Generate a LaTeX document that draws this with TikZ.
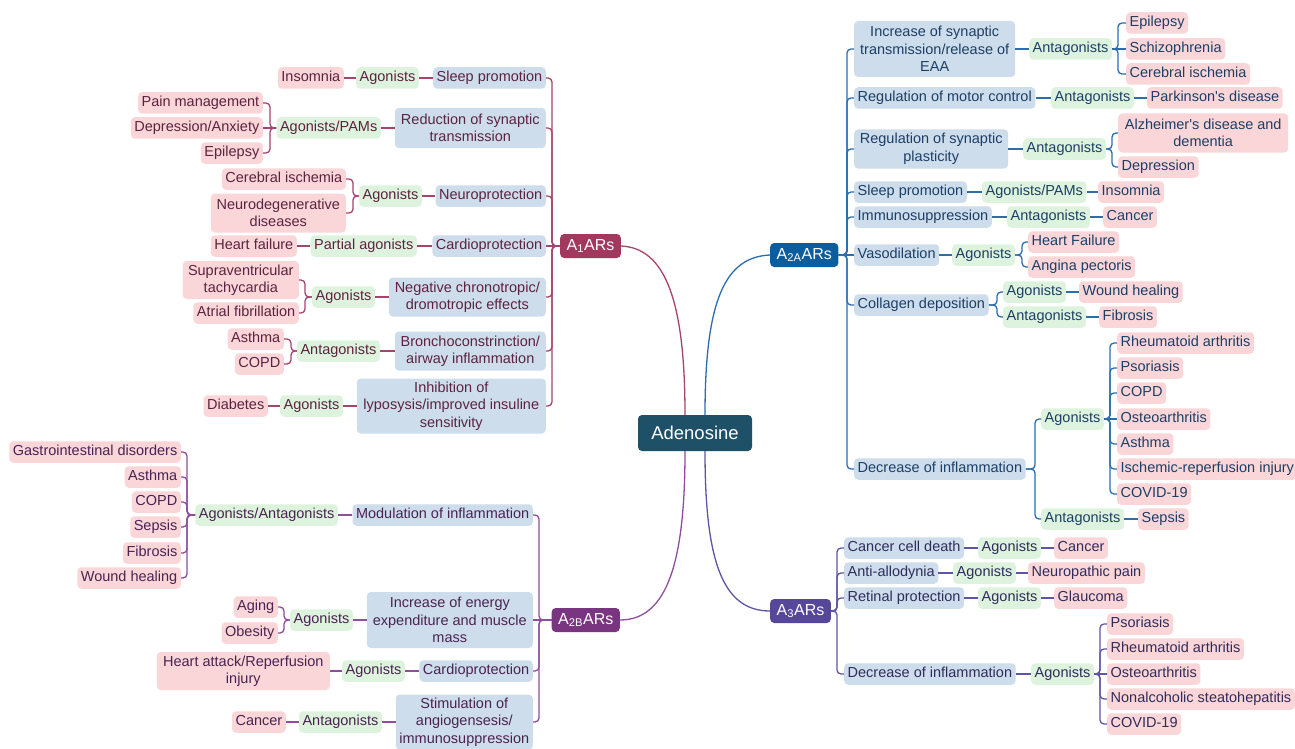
\documentclass[tikz,border=0pt]{standalone}
\usepackage{fontspec}
\setmainfont{Liberation Sans}
\usetikzlibrary{calc}
\definecolor{pinkF}{HTML}{FAD6D8}
\definecolor{greenF}{HTML}{DEF3DD}
\definecolor{blueF}{HTML}{CEDDEB}
\definecolor{rootC}{HTML}{1E5167}
\definecolor{tA}{HTML}{5C2340}
\definecolor{lA}{HTML}{A6446E}
\definecolor{cA}{HTML}{A3385F}
\definecolor{tB}{HTML}{1C3F66}
\definecolor{lB}{HTML}{2C6DAE}
\definecolor{cB}{HTML}{0B5D9E}
\definecolor{tC}{HTML}{4A2352}
\definecolor{lC}{HTML}{8E4E9C}
\definecolor{cC}{HTML}{7A3580}
\definecolor{tD}{HTML}{2F2C5C}
\definecolor{lD}{HTML}{5E55A4}
\definecolor{cD}{HTML}{56479A}
\newcommand\fsz{\fontsize{14.5}{17.5}\selectfont}
\begin{document}
\begin{tikzpicture}[x=1pt,y=-1pt,
  bx/.style={rounded corners=4pt, inner xsep=3.5pt, inner ysep=3pt, minimum height=21.5pt, text height=10.5pt, text depth=3pt, align=center, font=\fsz},
  ml/.style={text height=, text depth=},
  pk/.style={bx, fill=pinkF},
  gr/.style={bx, fill=greenF},
  bl/.style={bx, fill=blueF},
  cat/.style={rounded corners=4pt, text=white, font=\fontsize{16}{19}\selectfont, inner xsep=6.5pt, minimum height=24pt},
  root/.style={rounded corners=4pt, text=white, fill=rootC, font=\fontsize{18.5}{22}\selectfont, minimum width=114pt, minimum height=36pt},
  ln/.style={line width=1.3pt, rounded corners=4pt},
  E/.style={anchor=east}, W/.style={anchor=west}
]
\useasboundingbox (0,0) rectangle (1295,749);
\fill[white] (0,0) rectangle (1295,749);

\node[root] (ad) at (695,433) {Adenosine};

% ---------------- A1 ----------------
\begin{scope}[bx/.append style={text=tA}, ln/.append style={draw=lA}]
\node[cat, fill=cA, W] (A1) at (560,246) {A\textsubscript{1}ARs};
\node[bl,E] (a1) at (546,78) {Sleep promotion};
\node[bl,ml,E,minimum width=151,minimum height=40] (a2) at (546,128) {Reduction of synaptic\\transmission};
\node[bl,E] (a3) at (546,196) {Neuroprotection};
\node[bl,E] (a4) at (546,246) {Cardioprotection};
\node[bl,ml,E,minimum width=157,minimum height=39] (a5) at (546,297) {Negative chronotropic/\\dromotropic effects};
\node[bl,ml,E,minimum width=151,minimum height=39] (a6) at (546,351) {Bronchoconstrinction/\\airway inflammation};
\node[bl,ml,E,minimum width=189,minimum height=55] (a7) at (546,406) {Inhibition of\\lyposysis/improved insuline\\sensitivity};
\node[gr,E] (a1g) at (419,78) {Agonists};
\node[gr,E] (a2g) at (381,128) {Agonists/PAMs};
\node[gr,E] (a3g) at (422,196) {Agonists};
\node[gr,E] (a4g) at (417,246) {Partial agonists};
\node[gr,E] (a5g) at (375,297) {Agonists};
\node[gr,E] (a6g) at (380,351) {Antagonists};
\node[gr,E] (a7g) at (343,406) {Agonists};
\node[pk,E] (a1p) at (344,78) {Insomnia};
\node[pk,E] (a2p1) at (263,103) {Pain management};
\node[pk,E] (a2p2) at (263,128) {Depression/Anxiety};
\node[pk,E] (a2p3) at (263,153) {Epilepsy};
\node[pk,E] (a3p1) at (346,179) {Cerebral ischemia};
\node[pk,ml,E,minimum width=135,minimum height=39] (a3p2) at (346,213) {Neurodegenerative\\diseases};
\node[pk,E] (a4p) at (297,246) {Heart failure};
\node[pk,ml,E,minimum width=116,minimum height=38] (a5p1) at (299,280) {Supraventricular\\tachycardia};
\node[pk,E] (a5p2) at (299,313) {Atrial fibrillation};
\node[pk,E] (a6p1) at (284,339) {Asthma};
\node[pk,E] (a6p2) at (284,364) {COPD};
\node[pk,E] (a7p) at (268,406) {Diabetes};
\foreach \n in {a1,a2,a3,a5,a6,a7} \draw[ln] (\n.east) -- ++(6,0) |- (A1.west);
\draw[ln] (a4.east) -- (A1.west);
\foreach \n in {a1,a2,a3,a4,a5,a6,a7} \draw[ln] (\n.west) -- (\n g.east);
\draw[ln] (a1g.west) -- (a1p.east);
\draw[ln] (a2p1.east) -- ++(7,0) |- (a2g.west);
\draw[ln] (a2p2.east) -- (a2g.west);
\draw[ln] (a2p3.east) -- ++(7,0) |- (a2g.west);
\draw[ln] (a3p1.east) -- ++(7,0) |- (a3g.west);
\draw[ln] (a3p2.east) -- ++(7,0) |- (a3g.west);
\draw[ln] (a4g.west) -- (a4p.east);
\draw[ln] (a5p1.east) -- ++(6,0) |- (a5g.west);
\draw[ln] (a5p2.east) -- ++(6,0) |- (a5g.west);
\draw[ln] (a6p1.east) -- ++(7,0) |- (a6g.west);
\draw[ln] (a6p2.east) -- ++(7,0) |- (a6g.west);
\draw[ln] (a7g.west) -- (a7p.east);
\draw[ln] (A1.east) .. controls (665,248) and (685,300) .. ($(ad.north)+(-10,0)$);
\end{scope}

% ---------------- A2B ----------------
\begin{scope}[bx/.append style={text=tC}, ln/.append style={draw=lC}]
\node[cat, fill=cC, E] (B) at (620,620) {A\textsubscript{2B}ARs};
\node[bl,E] (b1) at (533,515) {Modulation of inflammation};
\node[bl,ml,E,minimum width=166,minimum height=56] (b2) at (533,620) {Increase of energy\\expenditure and muscle\\mass};
\node[bl,E] (b3) at (533,671) {Cardioprotection};
\node[bl,ml,E,minimum width=137,minimum height=55] (b4) at (533,722) {Stimulation of\\angiogensesis/\\immunosuppression};
\node[gr,E] (b1g) at (338,515) {Agonists/Antagonists};
\node[gr,E] (b2g) at (353,620) {Agonists};
\node[gr,E] (b3g) at (405,671) {Agonists};
\node[gr,E] (b4g) at (382,722) {Antagonists};
\node[pk,E] (b1p1) at (181,452) {Gastrointestinal disorders};
\node[pk,E] (b1p2) at (181,477) {Asthma};
\node[pk,E] (b1p3) at (181,502) {COPD};
\node[pk,E] (b1p4) at (181,527) {Sepsis};
\node[pk,E] (b1p5) at (181,553) {Fibrosis};
\node[pk,E] (b1p6) at (181,578) {Wound healing};
\node[pk,E] (b2p1) at (278,607) {Aging};
\node[pk,E] (b2p2) at (278,633) {Obesity};
\node[pk,ml,E,minimum width=173,minimum height=38] (b3p) at (330,671) {Heart attack/Reperfusion\\injury};
\node[pk,E] (b4p) at (286,722) {Cancer};
\foreach \n in {b1,b3,b4} \draw[ln] (\n.east) -- ++(6,0) |- (B.west);
\draw[ln] (b2.east) -- (B.west);
\foreach \n in {b1,b2,b3,b4} \draw[ln] (\n.west) -- (\n g.east);
\foreach \n in {b1p1,b1p2,b1p3,b1p4,b1p5,b1p6} \draw[ln] (\n.east) -- ++(6,0) |- (b1g.west);
\draw[ln] (b2p1.east) -- ++(6,0) |- (b2g.west);
\draw[ln] (b2p2.east) -- ++(6,0) |- (b2g.west);
\draw[ln] (b3g.west) -- (b3p.east);
\draw[ln] (b4g.west) -- (b4p.east);
\draw[ln] ($(ad.south)+(-10,0)$) .. controls (685,560) and (668,620) .. (B.east);
\end{scope}

% ---------------- A2A ----------------
\begin{scope}[bx/.append style={text=tB}, ln/.append style={draw=lB}]
\node[cat, fill=cB, W] (C) at (770,255) {A\textsubscript{2A}ARs};
\node[bl,ml,W,minimum width=161,minimum height=56] (c1) at (854,49) {Increase of synaptic\\transmission/release of\\EAA};
\node[bl,W] (c2) at (854,98) {Regulation of motor control};
\node[bl,ml,W,minimum width=154,minimum height=39] (c3) at (854,149) {Regulation of synaptic\\plasticity};
\node[bl,W] (c4) at (854,192) {Sleep promotion};
\node[bl,W] (c5) at (854,217) {Immunosuppression};
\node[bl,W] (c6) at (854,255) {Vasodilation};
\node[bl,W] (c7) at (854,305) {Collagen deposition};
\node[bl,W] (c8) at (854,469) {Decrease of inflammation};
\node[gr,W] (c1g) at (1029,49) {Antagonists};
\node[gr,W] (c2g) at (1051,98) {Antagonists};
\node[gr,W] (c3g) at (1023,149) {Antagonists};
\node[gr,W] (c4g) at (982,192) {Agonists/PAMs};
\node[gr,W] (c5g) at (1007,217) {Antagonists};
\node[gr,W] (c6g) at (952,255) {Agonists};
\node[gr,W] (c7g1) at (1003,292) {Agonists};
\node[gr,W] (c7g2) at (1003,317) {Antagonists};
\node[gr,W] (c8g1) at (1041,419) {Agonists};
\node[gr,W] (c8g2) at (1041,519) {Antagonists};
\node[pk,W] (c1p1) at (1126,23) {Epilepsy};
\node[pk,W] (c1p2) at (1126,49) {Schizophrenia};
\node[pk,W] (c1p3) at (1126,74) {Cerebral ischemia};
\node[pk,W] (c2p) at (1147,98) {Parkinson\textquotesingle s disease};
\node[pk,ml,W,minimum width=170,minimum height=39] (c3p1) at (1118,133) {Alzheimer\textquotesingle s disease and\\dementia};
\node[pk,W] (c3p2) at (1118,167) {Depression};
\node[pk,W] (c4p) at (1098,192) {Insomnia};
\node[pk,W] (c5p) at (1103,217) {Cancer};
\node[pk,W] (c6p1) at (1028,242) {Heart Failure};
\node[pk,W] (c6p2) at (1028,267) {Angina pectoris};
\node[pk,W] (c7p1) at (1079,292) {Wound healing};
\node[pk,W] (c7p2) at (1099,317) {Fibrosis};
\node[pk,W] (c8p1) at (1117,343) {Rheumatoid arthritis};
\node[pk,W] (c8p2) at (1117,368) {Psoriasis};
\node[pk,W] (c8p3) at (1117,393) {COPD};
\node[pk,W] (c8p4) at (1117,419) {Osteoarthritis};
\node[pk,W] (c8p5) at (1117,444) {Asthma};
\node[pk,W] (c8p6) at (1117,469) {Ischemic-reperfusion injury};
\node[pk,W] (c8p7) at (1117,494) {COVID-19};
\node[pk,W] (c8p8) at (1138,519) {Sepsis};
\foreach \n in {c1,c2,c3,c4,c5,c7,c8} \draw[ln] (\n.west) -- ++(-7,0) |- (C.east);
\draw[ln] (c6.west) -- (C.east);
\foreach \n in {c1,c2,c3,c4,c5,c6} \draw[ln] (\n.east) -- (\n g.west);
\draw[ln] (c1p1.west) -- ++(-8,0) |- (c1g.east);
\draw[ln] (c1p2.west) -- (c1g.east);
\draw[ln] (c1p3.west) -- ++(-8,0) |- (c1g.east);
\draw[ln] (c2g.east) -- (c2p.west);
\draw[ln] (c3p1.west) -- ++(-6,0) |- (c3g.east);
\draw[ln] (c3p2.west) -- ++(-6,0) |- (c3g.east);
\draw[ln] (c4g.east) -- (c4p.west);
\draw[ln] (c5g.east) -- (c5p.west);
\draw[ln] (c6p1.west) -- ++(-6,0) |- (c6g.east);
\draw[ln] (c6p2.west) -- ++(-6,0) |- (c6g.east);
\draw[ln] (c7g1.west) -- ++(-6,0) |- (c7.east);
\draw[ln] (c7g2.west) -- ++(-6,0) |- (c7.east);
\draw[ln] (c7g1.east) -- (c7p1.west);
\draw[ln] (c7g2.east) -- (c7p2.west);
\draw[ln] (c8g1.west) -- ++(-6,0) |- (c8.east);
\draw[ln] (c8g2.west) -- ++(-6,0) |- (c8.east);
\foreach \n in {c8p1,c8p2,c8p3,c8p5,c8p6,c8p7} \draw[ln] (\n.west) -- ++(-7,0) |- (c8g1.east);
\draw[ln] (c8p4.west) -- (c8g1.east);
\draw[ln] (c8g2.east) -- (c8p8.west);
\draw[ln] (C.west) .. controls (725,257) and (705,300) .. ($(ad.north)+(10,0)$);
\end{scope}

% ---------------- A3 ----------------
\begin{scope}[bx/.append style={text=tD}, ln/.append style={draw=lD}]
\node[cat, fill=cD, W] (D) at (770,611) {A\textsubscript{3}ARs};
\node[bl,W] (d1) at (844,548) {Cancer cell death};
\node[bl,W] (d2) at (844,573) {Anti-allodynia};
\node[bl,W] (d3) at (844,598) {Retinal protection};
\node[bl,W] (d4) at (844,674) {Decrease of inflammation};
\node[gr,W] (d1g) at (978,548) {Agonists};
\node[gr,W] (d2g) at (953,573) {Agonists};
\node[gr,W] (d3g) at (978,598) {Agonists};
\node[gr,W] (d4g) at (1031,674) {Agonists};
\node[pk,W] (d1p) at (1054,548) {Cancer};
\node[pk,W] (d2p) at (1028,573) {Neuropathic pain};
\node[pk,W] (d3p) at (1054,598) {Glaucoma};
\node[pk,W] (d4p1) at (1107,624) {Psoriasis};
\node[pk,W] (d4p2) at (1107,649) {Rheumatoid arthritis};
\node[pk,W] (d4p3) at (1107,674) {Osteoarthritis};
\node[pk,W] (d4p4) at (1107,699) {Nonalcoholic steatohepatitis};
\node[pk,W] (d4p5) at (1107,724) {COVID-19};
\foreach \n in {d1,d2,d3,d4} \draw[ln] (\n.west) -- ++(-7,0) |- (D.east);
\foreach \n in {d1,d2,d3,d4} \draw[ln] (\n.east) -- (\n g.west);
\foreach \n in {d1,d2,d3} \draw[ln] (\n g.east) -- (\n p.west);
\foreach \n in {d4p1,d4p2,d4p4,d4p5} \draw[ln] (\n.west) -- ++(-7,0) |- (d4g.east);
\draw[ln] (d4p3.west) -- (d4g.east);
\draw[ln] ($(ad.south)+(10,0)$) .. controls (705,560) and (722,611) .. (D.west);
\end{scope}
\end{tikzpicture}
\end{document}
